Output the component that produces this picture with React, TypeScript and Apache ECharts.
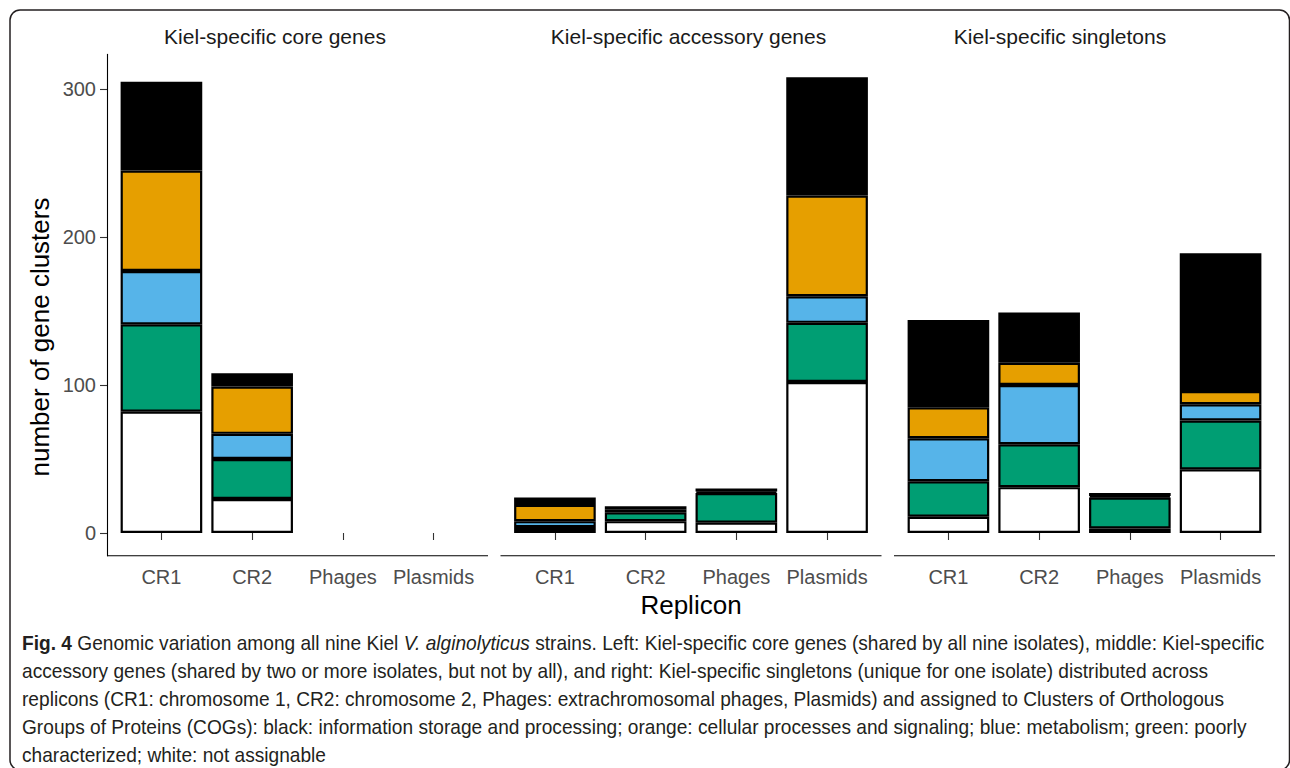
import React, { useEffect, useRef } from "react";
import * as echarts from "echarts";

// ---------- data ----------
const categories = ["CR1", "CR2", "Phages", "Plasmids"];
const panelTitles = [
  "Kiel-specific core genes",
  "Kiel-specific accessory genes",
  "Kiel-specific singletons",
];
const cogNames = [
  "not assignable",
  "poorly characterized",
  "metabolism",
  "cellular processes and signaling",
  "information storage and processing",
];
const cogColors = ["#FFFFFF", "#009E73", "#56B4E9", "#E69F00", "#000000"];
const yTicks = [0, 100, 200, 300];
const yTitle = "number of gene clusters";
const xTitle = "Replicon";

// core genes (CR1, CR2, Phages, Plasmids), stacked bottom -> top
const coreNotAssignable = [82, 23, null, null];
const corePoorly = [59, 27, null, null];
const coreMetabolism = [36, 17, null, null];
const coreCellular = [68, 32, null, null];
const coreInformation = [60, 9, null, null];

// accessory genes
const accNotAssignable = [2, 8, 7, 102];
const accPoorly = [2, 6, 20, 40];
const accMetabolism = [4, null, null, 18];
const accCellular = [11, 2, 1, 68];
const accInformation = [5, 2, 2, 80];

// singletons
const sinNotAssignable = [11, 31, 3, 43];
const sinPoorly = [24, 29, 21, 33];
const sinMetabolism = [29, 40, null, 11];
const sinCellular = [21, 15, 1, 9];
const sinInformation = [59, 34, 2, 93];

const panels = [
  [coreNotAssignable, corePoorly, coreMetabolism, coreCellular, coreInformation],
  [accNotAssignable, accPoorly, accMetabolism, accCellular, accInformation],
  [sinNotAssignable, sinPoorly, sinMetabolism, sinCellular, sinInformation],
];

const captionLines = [
  "{b|Fig. 4} Genomic variation among all nine Kiel {i|V. alginolyticus} strains. Left: Kiel-specific core genes (shared by all nine isolates), middle: Kiel-specific",
  "accessory genes (shared by two or more isolates, but not by all), and right: Kiel-specific singletons (unique for one isolate) distributed across",
  "replicons (CR1: chromosome 1, CR2: chromosome 2, Phages: extrachromosomal phages, Plasmids) and assigned to Clusters of Orthologous",
  "Groups of Proteins (COGs): black: information storage and processing; orange: cellular processes and signaling; blue: metabolism; green: poorly",
  "characterized; white: not assignable",
];

// ---------- layout ----------
const SANS = "'Liberation Sans', Arial, sans-serif";
const CAP = "'Liberation Sans', Arial, sans-serif";
const CAP_SIZE = 21;
const CAP_X = 22;
const CAP_LINE1_WIDTH = 1243;
const panelStarts = [107, 500.5, 894];
const panelWidth = 381;
const unit = panelWidth / 4.2;
const gridTop = 54.4;
const gridHeight = 501.4;
const titleCenters = [275, 688.5, 1060];

function measureRich(line: string): number {
  const canvas = document.createElement("canvas");
  const ctx = canvas.getContext("2d");
  if (!ctx) return CAP_LINE1_WIDTH;
  let total = 0;
  const re = /\{(\w)\|([^}]*)\}/g;
  let last = 0;
  let m: RegExpExecArray | null;
  const seg = (font: string, s: string) => {
    ctx.font = font;
    total += ctx.measureText(s).width;
  };
  while ((m = re.exec(line))) {
    if (m.index > last) seg(`${CAP_SIZE}px ${CAP}`, line.slice(last, m.index));
    const f =
      m[1] === "b" ? `bold ${CAP_SIZE}px ${CAP}` : `italic ${CAP_SIZE}px ${CAP}`;
    seg(f, m[2]);
    last = m.index + m[0].length;
  }
  if (last < line.length) seg(`${CAP_SIZE}px ${CAP}`, line.slice(last));
  return total;
}

export default function App() {
  const ref = useRef<HTMLDivElement>(null);

  useEffect(() => {
    document.body.style.margin = "0";
    if (!ref.current) return;
    const chart = echarts.init(ref.current, undefined, { renderer: "svg" });

    const totals: number[] = [];
    panels.forEach((p) => {
      for (let i = 0; i < categories.length; i++) {
        totals.push(p.reduce((s, arr) => s + (arr[i] ?? 0), 0));
      }
    });
    const maxTotal = Math.max(...totals);
    const yMin = -0.05 * maxTotal;
    const yMax = maxTotal * 1.05;

    const grids = panelStarts.map((s) => ({
      left: s + 0.1 * unit,
      top: gridTop,
      width: 4 * unit,
      height: gridHeight,
      outerBoundsMode: "none",
      containLabel: false,
    }));

    const xAxes = panelStarts.map((_, i) => ({
      type: "category",
      gridIndex: i,
      data: categories,
      axisLine: { show: false },
      axisTick: {
        show: true,
        alignWithLabel: true,
        length: 7,
        lineStyle: { color: "#333333", width: 1.1 },
      },
      axisLabel: {
        color: "#4D4D4D",
        fontSize: 20,
        fontFamily: SANS,
        margin: 11,
        interval: 0,
      },
      splitLine: { show: false },
      name: i === 1 ? xTitle : "",
      nameLocation: "middle",
      nameGap: 36,
      nameTextStyle: { color: "#000000", fontSize: 26, fontFamily: SANS, verticalAlign: "top" },
    }));

    const yAxes = panelStarts.map((_, i) => ({
      type: "value",
      gridIndex: i,
      min: yMin,
      max: yMax,
      show: i === 0,
      offset: 0.1 * unit,
      axisLine: { show: true, lineStyle: { color: "#000000", width: 1.1 } },
      axisTick: {
        show: true,
        length: 7,
        customValues: yTicks,
        lineStyle: { color: "#333333", width: 1.1 },
      },
      axisLabel: {
        color: "#4D4D4D",
        fontSize: 20,
        fontFamily: SANS,
        margin: 11,
        customValues: yTicks,
      },
      splitLine: { show: false },
    }));

    const series: any[] = [];
    panels.forEach((p, pi) => {
      p.forEach((arr, ci) => {
        series.push({
          type: "bar",
          name: cogNames[ci],
          xAxisIndex: pi,
          yAxisIndex: pi,
          stack: "panel" + pi,
          barWidth: "90%",
          data: arr.map((v) => (v == null ? "-" : v)),
          itemStyle: { color: cogColors[ci], borderColor: "#000000", borderWidth: 2.2 },
          emphasis: { disabled: true },
        });
      });
    });

    const capScale = CAP_LINE1_WIDTH / measureRich(captionLines[0]);

    const graphics: any[] = [
      {
        type: "rect",
        shape: { x: 10, y: 10, width: 1279.5, height: 760, r: 10 },
        style: { fill: "none", stroke: "#231F20", lineWidth: 1.5 },
        silent: true,
      },
      {
        type: "text",
        x: 40,
        y: 337,
        rotation: Math.PI / 2,
        style: {
          text: yTitle,
          fill: "#000000",
          font: `26px ${SANS}`,
          align: "center",
          verticalAlign: "middle",
        },
        silent: true,
      },
    ];
    panelStarts.forEach((s, i) => {
      graphics.push({
        type: "line",
        shape: { x1: s, y1: gridTop + gridHeight, x2: s + panelWidth, y2: gridTop + gridHeight },
        style: { stroke: "#000000", lineWidth: 1.1 },
        silent: true,
      });
      graphics.push({
        type: "text",
        x: titleCenters[i],
        y: 36,
        style: {
          text: panelTitles[i],
          fill: "#1A1A1A",
          font: `21px ${SANS}`,
          align: "center",
          verticalAlign: "middle",
        },
        silent: true,
      });
    });
    const capY = [643, 671, 699, 727, 755];
    captionLines.forEach((t, i) => {
      graphics.push({
        type: "text",
        x: CAP_X,
        y: capY[i],
        scaleX: capScale,
        style: {
          text: t,
          fill: "#231F20",
          font: `${CAP_SIZE}px ${CAP}`,
          align: "left",
          verticalAlign: "middle",
          rich: {
            b: { fontWeight: "bold", fontSize: CAP_SIZE, fontFamily: CAP, fill: "#231F20" },
            i: { fontStyle: "italic", fontSize: CAP_SIZE, fontFamily: CAP, fill: "#231F20" },
          },
        },
        silent: true,
      });
    });

    chart.setOption({
      animation: false,
      backgroundColor: "#FFFFFF",
      grid: grids,
      xAxis: xAxes,
      yAxis: yAxes,
      series,
      graphic: graphics,
    });

    return () => chart.dispose();
  }, []);

  return <div ref={ref} style={{ width: 1290, height: 768 }} />;
}
